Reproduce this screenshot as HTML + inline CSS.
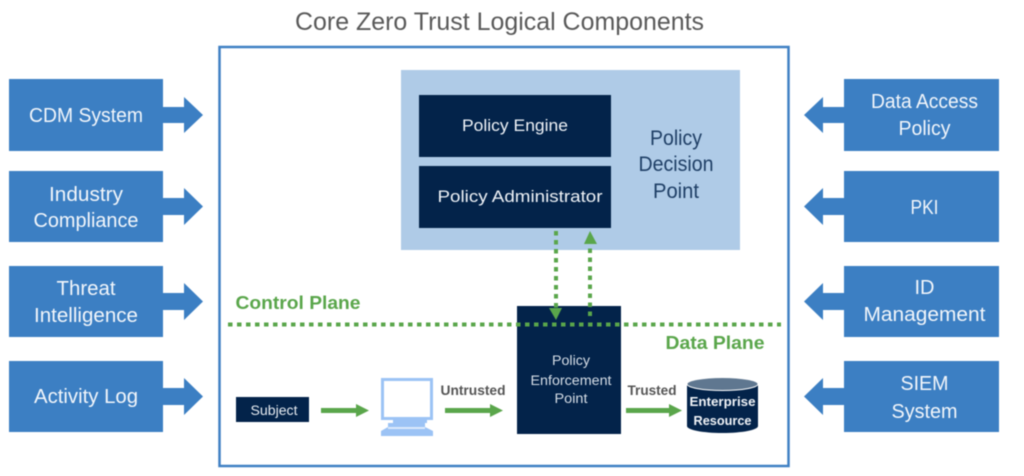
<!DOCTYPE html>
<html lang="en">
<head>
<meta charset="utf-8">
<title>Core Zero Trust Logical Components</title>
<style>
html,body{margin:0;padding:0;background:#fff;width:1024px;height:476px;overflow:hidden}
svg{display:block;filter:blur(0.4px)}
text{font-family:"Liberation Sans",sans-serif;text-anchor:middle}
.w{fill:#f2f6fb;font-size:20px}
.n{fill:#eef2f7;font-size:17px}
.d{fill:#1f3f66;font-size:21px}
.g{fill:#5aa64b;font-size:18px;font-weight:bold}
.l{fill:#555;font-size:13.5px;font-weight:bold}
</style>
</head>
<body>
<svg width="1024" height="476" viewBox="0 0 1024 476" xmlns="http://www.w3.org/2000/svg">
<rect width="1024" height="476" fill="#fff"/>
<text x="499.500" y="30" fill="#595959" font-size="25" textLength="409" lengthAdjust="spacingAndGlyphs">Core Zero Trust Logical Components</text>
<rect x="219.500" y="47" width="569" height="419" fill="#fff" stroke="#3f80c4" stroke-width="2.500"/>

<!-- left -->
<g fill="#3c7fc3">
<path d="M9 79H163V107H184V97L203 115L184 133V123H163V151H9Z"/>
<path d="M9 171H163V198H184V188L203 206.500L184 225V215H163V242H9Z"/>
<path d="M9 266H163V293H184V283L203 301.500L184 320V310H163V337H9Z"/>
<path d="M9 361H163V388H184V378L203 396.500L184 415V405H163V432H9Z"/>
<!-- right -->
<path d="M999 79H844V107H823V97L804 115L823 133V123H844V151H999Z"/>
<path d="M999 171H844V198H823V188L804 206.500L823 225V215H844V242H999Z"/>
<path d="M999 266H844V293H823V283L804 301.500L823 320V310H844V337H999Z"/>
<path d="M999 361H844V388H823V378L804 396.500L823 415V405H844V432H999Z"/>
</g>
<text class="w" x="86" y="122" textLength="114" lengthAdjust="spacingAndGlyphs">CDM System</text>
<text class="w" x="86" y="201" textLength="74" lengthAdjust="spacingAndGlyphs">Industry</text>
<text class="w" x="86" y="227" textLength="105" lengthAdjust="spacingAndGlyphs">Compliance</text>
<text class="w" x="86" y="295" textLength="59" lengthAdjust="spacingAndGlyphs">Threat</text>
<text class="w" x="86" y="322" textLength="104" lengthAdjust="spacingAndGlyphs">Intelligence</text>
<text class="w" x="86" y="403" textLength="104" lengthAdjust="spacingAndGlyphs">Activity Log</text>
<text class="w" x="924.500" y="108" textLength="107" lengthAdjust="spacingAndGlyphs">Data Access</text>
<text class="w" x="924.500" y="135" textLength="52" lengthAdjust="spacingAndGlyphs">Policy</text>
<text class="w" x="924.500" y="214" textLength="28" lengthAdjust="spacingAndGlyphs">PKI</text>
<text class="w" x="924.500" y="294" textLength="20" lengthAdjust="spacingAndGlyphs">ID</text>
<text class="w" x="924.500" y="321" textLength="122" lengthAdjust="spacingAndGlyphs">Management</text>
<text class="w" x="924.500" y="390" textLength="48" lengthAdjust="spacingAndGlyphs">SIEM</text>
<text class="w" x="924.500" y="418" textLength="66" lengthAdjust="spacingAndGlyphs">System</text>

<!-- PDP -->
<rect x="401" y="70" width="339" height="180" fill="#afcbe7"/>
<rect x="419" y="95" width="192" height="62" fill="#03234a"/>
<rect x="419" y="166" width="192" height="62" fill="#03234a"/>
<text class="n" x="515" y="131" textLength="106" lengthAdjust="spacingAndGlyphs">Policy Engine</text>
<text class="n" x="520" y="202" textLength="165" lengthAdjust="spacingAndGlyphs">Policy Administrator</text>
<text class="d" x="676" y="145" textLength="52" lengthAdjust="spacingAndGlyphs">Policy</text>
<text class="d" x="676" y="171" textLength="75" lengthAdjust="spacingAndGlyphs">Decision</text>
<text class="d" x="676" y="198" textLength="46" lengthAdjust="spacingAndGlyphs">Point</text>

<!-- PEP -->
<rect x="517" y="306" width="104" height="128" fill="#03234a"/>
<text x="571" y="365" fill="#d5dde6" font-size="13.500" textLength="38" lengthAdjust="spacingAndGlyphs">Policy</text>
<text x="571" y="385" fill="#d5dde6" font-size="13.500" textLength="81" lengthAdjust="spacingAndGlyphs">Enforcement</text>
<text x="571" y="403" fill="#d5dde6" font-size="13.500" textLength="33" lengthAdjust="spacingAndGlyphs">Point</text>

<!-- dotted -->
<g stroke="#5aa64b" stroke-width="4" fill="none" stroke-dasharray="4.500 4.500">
<path d="M228 324.500H781"/>
<path d="M556 231V308"/>
<path d="M590 316V245"/>
</g>
<g fill="#5aa64b">
<path d="M549 308H562L556 320Z"/>
<path d="M584 244H597L590 231Z"/>
</g>
<text class="g" x="298" y="309" textLength="125" lengthAdjust="spacingAndGlyphs">Control Plane</text>
<text class="g" x="715" y="349" textLength="99" lengthAdjust="spacingAndGlyphs">Data Plane</text>

<!-- subject -->
<rect x="236" y="397" width="73" height="25" fill="#03234a"/>
<text x="274" y="415" fill="#e6ebf1" font-size="13.500" textLength="47" lengthAdjust="spacingAndGlyphs">Subject</text>

<!-- green arrows -->
<g fill="#5aa64b">
<path d="M321 408H356V404L369 410.500L356 417V413H321Z"/>
<path d="M445 408H490V404L503 410.500L490 417V413H445Z"/>
<path d="M626 408H669V404L682 410.500L669 417V413H626Z"/>
</g>
<text class="l" x="473" y="395" textLength="65" lengthAdjust="spacingAndGlyphs">Untrusted</text>
<text class="l" x="652" y="395" textLength="49" lengthAdjust="spacingAndGlyphs">Trusted</text>

<!-- monitor -->
<rect x="382.500" y="379.500" width="49" height="39" fill="#fff" stroke="#9cc3f5" stroke-width="3"/>
<path d="M393 420H427V423H425V427L433 431V436H381V431L388 427V423H393Z" fill="#9cc3f5"/>
<rect x="388" y="427" width="37" height="2" fill="#dbe9fb"/>

<!-- cylinder -->
<path d="M687 384V426C687 430 703 433 722.500 433S758 430 758 426V384Z" fill="#03234a"/>
<ellipse cx="722.500" cy="384" rx="35.500" ry="6.500" fill="#5f7790" stroke="#fff" stroke-width="1"/>
<text x="722.500" y="406" fill="#f0f3f7" font-size="13" font-weight="bold" textLength="66" lengthAdjust="spacingAndGlyphs">Enterprise</text>
<text x="722.500" y="425" fill="#f0f3f7" font-size="13" font-weight="bold" textLength="58" lengthAdjust="spacingAndGlyphs">Resource</text>
</svg>
</body>
</html>
